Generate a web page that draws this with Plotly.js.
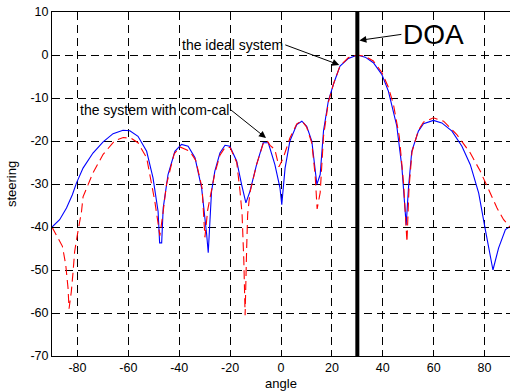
<!DOCTYPE html>
<html>
<head>
<meta charset="utf-8">
<script src="https://cdn.plot.ly/plotly-3.0.1.min.js"></script>
<style>html,body{margin:0;padding:0;background:#fff;}#chart{width:510px;height:391px;}</style>
</head>
<body>
<div id="chart"></div>
<script>
// ideal system (blue, solid)
const idealAngle = [-90,-87,-84.3,-82,-80.4,-77.8,-73.9,-69.9,-66,-62.1,-59.4,-56.2,-52.8,-50.3,-48.3,-47.7,-46.9,-46.3,-44.4,-41.7,-39.1,-36.5,-33.8,-31.2,-29.2,-28.6,-27.3,-26,-24,-22,-20.1,-17.4,-15.5,-13.8,-12.2,-9.6,-7,-5,-2.4,-0.4,0.3,1.6,3.5,6.2,8.2,10.1,12.1,14.1,15.4,16.7,18.6,20.6,23.2,26.5,30,33.1,36.3,39.6,42.2,45.5,47.5,48.8,49.2,50.1,51.4,54,56,59.9,63.2,67.2,71.1,74.4,77.7,80.3,83.3,85.5,88.2,90];
const idealSteering = [-40,-38.3,-35.6,-32.5,-29.8,-26.3,-22.8,-20.2,-18.3,-17.5,-17.6,-18.9,-22.4,-28.6,-36.4,-43.7,-43.7,-35.6,-27.8,-22.4,-20.8,-21.2,-23.9,-30.9,-41.8,-46,-31.7,-27,-22.8,-21,-21.2,-24.7,-30.1,-34.4,-31.7,-25.5,-20.4,-20.4,-25.5,-30.9,-34.8,-26.3,-20,-16.2,-15.4,-16.6,-20,-30.1,-27.8,-17.7,-10.7,-6.8,-2.6,-0.8,0,-0.5,-1.8,-4.5,-8.4,-16.5,-26,-36.4,-39.5,-30.9,-22.4,-17.7,-16,-15.2,-15.8,-17.7,-21.2,-25.5,-32.1,-40.6,-50,-44.9,-40.6,-39.9];

// system with com-cal (red, dashed)
const comcalAngle = [-90,-88.3,-85.9,-84.6,-83.7,-83.3,-82.4,-81.7,-81.1,-79.8,-78.4,-77.8,-73.9,-69.9,-65.3,-62,-58.8,-56.2,-52.8,-49.6,-47.6,-46.3,-45,-42,-39.7,-35.8,-33.5,-31,-29.9,-28.8,-27,-26,-24,-22,-20,-17.4,-16.1,-15.3,-14.6,-14.1,-13.5,-13.1,-12.2,-9.6,-7,-5.5,-4.3,-2.4,-0.8,0.9,3.5,6.2,8.2,10.1,12.1,13.4,14.2,15.4,16.7,18.6,20.6,23.2,26.5,30,33.1,36.3,39.6,42.2,44.2,46.5,48.2,49.5,50.3,51.5,54,56,59.9,63.9,69.1,74.4,78.3,81,84.9,87.5,90];
const comcalSteering = [-40,-41.8,-44.5,-48.8,-54.2,-59,-55,-50.3,-45.7,-41,-36.4,-33,-27.4,-23.1,-19.9,-19.2,-19.4,-20.4,-23.9,-34,-42,-36.4,-30.1,-23,-21.4,-22.4,-24.5,-31,-42.4,-36,-30,-27.5,-23.3,-21.5,-21.5,-25,-31.7,-37,-48,-60.5,-45,-37,-32,-25.5,-20.6,-19.9,-21,-22,-26,-23.9,-19.3,-16,-15.3,-16.8,-20.5,-27.8,-35.8,-32,-19,-11,-6.8,-2.5,-0.6,0,-0.3,-1.4,-4,-7.5,-11.5,-19,-30,-43.5,-31,-22.5,-17.5,-15.6,-14.6,-15.4,-18.5,-22.8,-27,-30.5,-35.6,-38.3,-40];

const doaAngle = 30;
const steeringRange = [-70, 10];
const angleRange = [-90, 90];
const angleTicks = [-80,-60,-40,-20,0,20,40,60,80];
const steeringTicks = [-70,-60,-50,-40,-30,-20,-10,0,10];

const traces = [
  {x: idealAngle, y: idealSteering, type: 'scatter', mode: 'lines', name: 'the ideal system',
   line: {color: '#0000ff', width: 1.1}},
  {x: comcalAngle, y: comcalSteering, type: 'scatter', mode: 'lines', name: 'the system with com-cal',
   line: {color: '#ff0000', width: 1.1, dash: '9px,5px'}},
  {x: [doaAngle, doaAngle], y: steeringRange, type: 'scatter', mode: 'lines', name: 'DOA',
   line: {color: '#000000', width: 4}}
];

const tickFont = {family: 'Liberation Sans, Arial, sans-serif', size: 12.5, color: '#000'};
const layout = {
  width: 510, height: 391,
  margin: {l: 52, r: 0, t: 12, b: 35},
  paper_bgcolor: '#fff', plot_bgcolor: '#fff',
  showlegend: false,
  font: {family: 'Liberation Sans, Arial, sans-serif', color: '#000'},
  xaxis: {
    range: angleRange, tickvals: angleTicks, ticktext: angleTicks.map(String),
    showgrid: true, gridcolor: '#000', griddash: '8px,5px', gridwidth: 1,
    showline: true, linecolor: '#000', linewidth: 1, mirror: 'ticks',
    ticks: 'inside', ticklen: 4, tickcolor: '#000', zeroline: false,
    tickfont: tickFont,
    title: {text: 'angle', font: {size: 13, color: '#000'}, standoff: 6}
  },
  yaxis: {
    range: steeringRange, tickvals: steeringTicks, ticktext: steeringTicks.map(String),
    showgrid: true, gridcolor: '#000', griddash: '8px,5px', gridwidth: 1,
    showline: true, linecolor: '#000', linewidth: 1, mirror: 'ticks',
    ticks: 'inside', ticklen: 4, tickcolor: '#000', zeroline: false,
    tickfont: tickFont,
    title: {text: 'steering', font: {size: 13, color: '#000'}, standoff: 10}
  },
  annotations: [
    {x: 30.8, y: 3.4, xref: 'x', yref: 'y', text: 'DOA', font: {size: 28, color: '#000'},
     showarrow: true, arrowhead: 2, arrowsize: 1.4, arrowwidth: 1, arrowcolor: '#000',
     ax: 42, ay: -6, xanchor: 'left', yanchor: 'middle'},
    {x: 22.9, y: -2.3, xref: 'x', yref: 'y', text: 'the ideal system', font: {size: 14, color: '#000'},
     showarrow: true, arrowhead: 2, arrowsize: 1.4, arrowwidth: 1, arrowcolor: '#000',
     ax: -54, ay: -20, xanchor: 'right', yanchor: 'middle'},
    {x: -5.9, y: -19.3, xref: 'x', yref: 'y', text: 'the system with com-cal', font: {size: 14, color: '#000'},
     showarrow: true, arrowhead: 2, arrowsize: 1.4, arrowwidth: 1, arrowcolor: '#000',
     ax: -35, ay: -28, xanchor: 'right', yanchor: 'middle'}
  ]
};

Plotly.newPlot('chart', traces, layout, {displayModeBar: false, staticPlot: true});
</script>
</body>
</html>
